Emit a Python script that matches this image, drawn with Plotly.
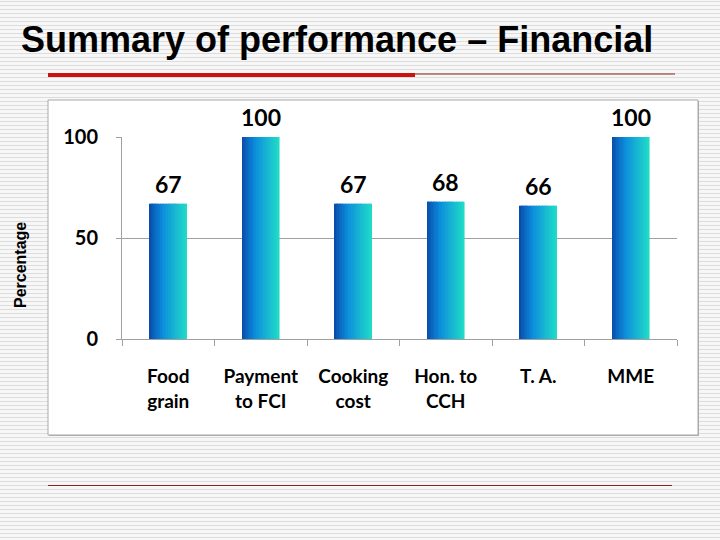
import plotly.graph_objects as go

categories = ["Food<br>grain", "Payment<br>to FCI", "Cooking<br>cost", "Hon. to<br>CCH", "T. A.", "MME"]
values = [67, 100, 67, 68, 66, 100]
y_ticks = [0, 50, 100]
title_text = "Summary of performance \u2013 Financial"
y_title = "Percentage"

W, H = 720, 540
L, R, T, B = 122, 677, 137, 339  # plot area in pixels

def px(x):
    return (x - L) / (R - L)

def py(y):
    return (B - y) / (B - T)

fig = go.Figure()

# gradient bars: slices of the same bar, dark blue -> cyan
stops = [(0.0, (8, 75, 170)), (0.35, (12, 140, 220)), (1.0, (32, 220, 200))]

def interp(t):
    for (t0, c0), (t1, c1) in zip(stops[:-1], stops[1:]):
        if t <= t1:
            f = (t - t0) / (t1 - t0)
            return "rgb(%d,%d,%d)" % tuple(round(a + (b - a) * f) for a, b in zip(c0, c1))
    return "rgb(%d,%d,%d)" % stops[-1][1]

N = 24
bw = 0.4
for i in range(N):
    fig.add_trace(go.Bar(
        x=categories, y=values,
        width=bw / N + 0.003, offset=-bw / 2 + i * bw / N,
        marker=dict(color=interp((i + 0.5) / N), line=dict(width=0)),
        showlegend=False, hoverinfo="skip",
    ))

for c, v in zip(categories, values):
    fig.add_annotation(x=c, y=v, text=str(v), showarrow=False, yanchor="bottom",
                       yshift=4, font=dict(family="Lato", size=23, color="black", weight="bold"))

shapes = []
# striped background
for y in range(1, H, 4):
    shapes.append(dict(type="line", xref="paper", yref="paper", x0=px(0), x1=px(W),
                       y0=py(y + 0.5), y1=py(y + 0.5), line=dict(color="#dddddd", width=1), layer="below"))
# white chart panel
shapes.append(dict(type="rect", xref="paper", yref="paper", x0=px(49), x1=px(699), y0=py(436), y1=py(101),
                   fillcolor="#b0b0b0", line=dict(width=0), layer="below"))
shapes.append(dict(type="rect", xref="paper", yref="paper", x0=px(48), x1=px(698), y0=py(435), y1=py(100),
                   fillcolor="white", line=dict(color="#a8a8a8", width=1), layer="below"))
# title decoration lines
shapes.append(dict(type="line", xref="paper", yref="paper", x0=px(415), x1=px(675), y0=py(74), y1=py(74),
                   line=dict(color="#8b2020", width=1)))
shapes.append(dict(type="line", xref="paper", yref="paper", x0=px(48), x1=px(415), y0=py(75), y1=py(75),
                   line=dict(color="#cc1111", width=4)))
shapes.append(dict(type="line", xref="paper", yref="paper", x0=px(48), x1=px(672), y0=py(485.5), y1=py(485.5),
                   line=dict(color="#8b2525", width=1)))

fig.add_annotation(xref="paper", yref="paper", x=px(19), y=py(17), xanchor="left", yanchor="top",
                   text=title_text, showarrow=False,
                   font=dict(family="Liberation Sans", size=36, color="black", weight="bold"))
fig.add_annotation(xref="paper", yref="paper", x=px(20), y=py(265), textangle=-90,
                   xanchor="center", yanchor="middle",
                   text=y_title, showarrow=False,
                   font=dict(family="Liberation Sans", size=16, color="black", weight="bold"))

fig.update_layout(
    width=W, height=H, autosize=False,
    margin=dict(l=L, r=W - R, t=T, b=H - B, pad=0),
    paper_bgcolor="#f7f7f7", plot_bgcolor="rgba(0,0,0,0)",
    barmode="overlay", bargap=0.6, showlegend=False,
    shapes=shapes,
    xaxis=dict(type="category", showgrid=False, showline=True, linecolor="#a0a0a0", linewidth=1,
               ticks="outside", tickson="boundaries", ticklen=6, tickcolor="#a0a0a0",
               ticklabelstandoff=20,
               tickfont=dict(family="Lato", size=19, color="black", weight="bold"), zeroline=False),
    yaxis=dict(range=[0, 100], tickvals=y_ticks, showgrid=True, gridcolor="#a0a0a0", gridwidth=1,
               showline=True, linecolor="#a0a0a0", linewidth=1, ticks="outside", ticklen=5,
               tickcolor="#a0a0a0", ticklabelstandoff=14, zeroline=False,
               tickfont=dict(family="Lato", size=20, color="black", weight="bold")),
)

fig.write_html("out.html", config={"displayModeBar": False},
               post_script="document.body.style.margin='0';document.body.style.overflow='hidden';")
